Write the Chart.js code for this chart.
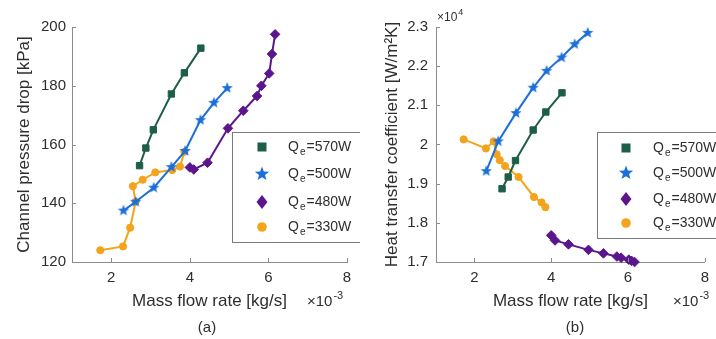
<!DOCTYPE html>
<html>
<head>
<meta charset="utf-8">
<script src="https://cdn.jsdelivr.net/npm/chart.js@4.4.1/dist/chart.umd.min.js"></script>
<style>
html, body { margin: 0; padding: 0; background: #fff; }
#wrap { position: relative; width: 716px; height: 339px; overflow: hidden; }
#chartA { position: absolute; left: 0; top: 0; }
#chartB { position: absolute; left: 360px; top: 0; }
</style>
</head>
<body>
<div id="wrap">
  <canvas id="chartA" width="360" height="339"></canvas>
  <canvas id="chartB" width="356" height="339"></canvas>
</div>
<script>
// tick labels
var xTicks = [2, 4, 6, 8];
var dpTicks = [120, 140, 160, 180, 200];
var htcTicks = [1.7, 1.8, 1.9, 2.0, 2.1, 2.2, 2.3];
var seriesNames = ["=570W", "=500W", "=480W", "=330W"];

// mass flow rate (x10^-3 kg/s)
var flow570 = [2.72, 2.88, 3.07, 3.53, 3.86, 4.28];
var flow500 = [2.31, 2.62, 3.08, 3.53, 3.88, 4.27, 4.61, 4.95];
var flow480 = [4.00, 4.10, 4.45, 4.97, 5.36, 5.71, 5.82, 6.02, 6.09, 6.17];
var flow330a = [1.72, 2.30, 2.48, 2.62, 2.55, 2.80, 3.12, 3.55, 3.75, 3.86];
var flow330b = [1.72, 2.30, 2.50, 2.58, 2.66, 2.80, 3.15, 3.55, 3.75, 3.85];

// channel pressure drop (kPa)
var dp570 = [152.8, 158.8, 165.0, 177.2, 184.4, 192.8];
var dp500 = [137.5, 140.5, 145.3, 152.3, 157.8, 168.3, 174.2, 179.2];
var dp480 = [152.2, 151.5, 153.8, 165.5, 171.5, 176.5, 180.0, 184.2, 190.8, 197.5];
var dp330 = [124.0, 125.3, 131.7, 140.5, 145.8, 148.0, 150.5, 151.3, 152.5, 157.5];

// heat transfer coefficient (x10^4 W/m2K)
var htc570 = [1.887, 1.917, 1.959, 2.037, 2.083, 2.132];
var htc500 = [1.932, 2.008, 2.080, 2.145, 2.188, 2.222, 2.256, 2.285];
var htc480 = [1.768, 1.755, 1.745, 1.731, 1.722, 1.714, 1.711, 1.706, 1.703, 1.700];
var htc330 = [2.013, 1.990, 2.008, 1.975, 1.960, 1.945, 1.917, 1.866, 1.852, 1.840];

var GREEN = "#1d5e48", BLUE = "#1c6fd8", PURPLE = "#5a168a", ORANGE = "#f4a41c";
var FONT = "'Liberation Sans', Arial, sans-serif";
var TEXT = "#2e2e2e", AXIS = "#8c8c8c";

function pts(xs, ys) {
    return xs.map(function (x, i) { return { x: x, y: ys[i] }; });
}

function starPath(ctx, x, y, r) {
    ctx.beginPath();
    for (var i = 0; i < 10; i++) {
        var rr = i % 2 === 0 ? r : r * 0.42;
        var a = -Math.PI / 2 + i * Math.PI / 5;
        var px = x + rr * Math.cos(a), py = y + rr * Math.sin(a);
        if (i === 0) ctx.moveTo(px, py); else ctx.lineTo(px, py);
    }
    ctx.closePath();
}

function makeStar(r, color) {
    var c = document.createElement("canvas");
    c.width = c.height = Math.ceil(2 * r + 2);
    var g = c.getContext("2d");
    g.fillStyle = color;
    starPath(g, c.width / 2, c.height / 2, r);
    g.fill();
    return c;
}
var starImg = makeStar(6, BLUE);

function drawMarker(ctx, kind, x, y, color) {
    ctx.fillStyle = color;
    if (kind === "rect") {
        ctx.fillRect(x - 4.5, y - 4.5, 9, 9);
    } else if (kind === "star") {
        starPath(ctx, x, y, 7.5);
        ctx.fill();
    } else if (kind === "diamond") {
        ctx.beginPath();
        ctx.moveTo(x, y - 7); ctx.lineTo(x + 5.5, y); ctx.lineTo(x, y + 7); ctx.lineTo(x - 5.5, y);
        ctx.closePath();
        ctx.fill();
    } else {
        ctx.beginPath();
        ctx.arc(x, y, 4.8, 0, Math.PI * 2);
        ctx.fill();
    }
}

function supText(ctx, base, sup, x, y, size, supSize, lift) {
    ctx.font = size + "px " + FONT;
    ctx.textBaseline = "middle";
    ctx.textAlign = "left";
    ctx.fillText(base, x, y);
    var w = ctx.measureText(base).width;
    ctx.font = supSize + "px " + FONT;
    ctx.fillText(sup, x + w + 1, y - lift);
}

var annotate = {
    id: "annotate",
    afterDraw: function (chart) {
        var o = chart.options.plugins.annotate;
        var ctx = chart.ctx;
        var area = chart.chartArea;
        ctx.save();

        // MATLAB style inward ticks
        ctx.strokeStyle = AXIS;
        ctx.lineWidth = 1;
        ctx.beginPath();
        chart.scales.x.ticks.forEach(function (t) {
            var px = Math.round(chart.scales.x.getPixelForValue(t.value)) + 0.5;
            ctx.moveTo(px, area.bottom); ctx.lineTo(px, area.bottom - 4);
        });
        chart.scales.y.ticks.forEach(function (t) {
            var py = Math.round(chart.scales.y.getPixelForValue(t.value)) + 0.5;
            ctx.moveTo(area.left, py); ctx.lineTo(area.left + 4, py);
        });
        ctx.stroke();

        // legend box
        var b = o.legend;
        ctx.fillStyle = "#fff";
        ctx.fillRect(b.x, b.y, b.w, b.h);
        ctx.strokeStyle = "#7a7a7a";
        ctx.strokeRect(b.x + 0.5, b.y + 0.5, b.w, b.h);
        var kinds = ["rect", "star", "diamond", "circle"];
        var colors = [GREEN, BLUE, PURPLE, ORANGE];
        seriesNames.forEach(function (name, i) {
            var ry = b.rows[i];
            drawMarker(ctx, kinds[i], b.mx, ry, colors[i]);
            ctx.fillStyle = TEXT;
            ctx.font = "14px " + FONT;
            ctx.textBaseline = "middle";
            ctx.textAlign = "left";
            ctx.fillText("Q", b.tx, ry);
            var wq = ctx.measureText("Q").width;
            ctx.font = "10px " + FONT;
            ctx.fillText("e", b.tx + wq + 1, ry + 5);
            var we = ctx.measureText("e").width;
            ctx.font = "14px " + FONT;
            ctx.fillText(name, b.tx + wq + we + 2, ry);
        });

        // exponent notes and panel label
        ctx.fillStyle = TEXT;
        o.notes.forEach(function (n) {
            supText(ctx, n.base, n.sup, n.x, n.y, n.size, n.supSize, n.lift);
        });
        ctx.font = "15px " + FONT;
        ctx.textAlign = "center";
        ctx.textBaseline = "middle";
        ctx.fillText(o.panel.text, o.panel.x, o.panel.y);
        ctx.restore();
    }
};

function lineSet(data, color, style, radius) {
    return {
        data: data,
        borderColor: color,
        backgroundColor: color,
        borderWidth: 2,
        showLine: true,
        pointStyle: style,
        pointRadius: radius,
        pointBorderWidth: 1,
        pointBorderColor: color,
        pointBackgroundColor: color,
        clip: false
    };
}

function makeChart(id, cfg) {
    return new Chart(document.getElementById(id), {
        type: "scatter",
        data: { datasets: cfg.datasets },
        options: {
            responsive: false,
            animation: false,
            events: [],
            layout: { padding: { top: 27, right: cfg.padRight, left: 0, bottom: 0 } },
            plugins: {
                legend: { display: false },
                tooltip: { enabled: false },
                annotate: cfg.annotate
            },
            scales: {
                x: {
                    type: "linear", min: 1, max: 8,
                    afterBuildTicks: function (s) { s.ticks = xTicks.map(function (v) { return { value: v }; }); },
                    afterFit: function (s) { s.height = 77; },
                    grid: { drawOnChartArea: false, drawTicks: false },
                    border: { color: AXIS, width: 1 },
                    ticks: { padding: 7, color: TEXT, font: { family: FONT, size: 15 } },
                    title: {
                        display: true, text: "Mass flow rate [kg/s]", color: TEXT,
                        font: { family: FONT, size: 17 }, padding: { top: 0, bottom: 27 }
                    }
                },
                y: {
                    type: "linear", min: cfg.yMin, max: cfg.yMax,
                    afterBuildTicks: function (s) { s.ticks = cfg.yTicks.map(function (v) { return { value: v }; }); },
                    afterFit: function (s) { s.width = cfg.yWidth; },
                    grid: { drawOnChartArea: false, drawTicks: false },
                    border: { color: AXIS, width: 1 },
                    ticks: {
                        padding: cfg.yPad, color: TEXT, font: { family: FONT, size: 15 },
                        callback: function (v) { return String(Math.round(v * 10) / 10); }
                    },
                    title: {
                        display: true, text: cfg.yTitle, color: TEXT,
                        font: { family: FONT, size: 17 }, padding: { top: cfg.yTitlePad, bottom: 0 }
                    }
                }
            }
        },
        plugins: [annotate]
    });
}

makeChart("chartA", {
    datasets: [
        lineSet(pts(flow570, dp570), GREEN, "rect", 4.5),
        lineSet(pts(flow500, dp500), BLUE, starImg, 6),
        lineSet(pts(flow480, dp480), PURPLE, "rectRot", 4.8),
        lineSet(pts(flow330a, dp330), ORANGE, "circle", 3.6)
    ],
    yMin: 120, yMax: 200, yTicks: dpTicks,
    yWidth: 72, yPad: 6, yTitlePad: 14, padRight: 13,
    yTitle: "Channel pressure drop [kPa]",
    annotate: {
        legend: { x: 232, y: 132, w: 140, h: 110, mx: 262, tx: 288, rows: [147, 174, 202, 227] },
        notes: [{ base: "\u00d710", sup: "-3", x: 307, y: 302, size: 15, supSize: 11, lift: 6 }],
        panel: { text: "(a)", x: 207, y: 328 }
    }
});

makeChart("chartB", {
    datasets: [
        lineSet(pts(flow570, htc570), GREEN, "rect", 4.5),
        lineSet(pts(flow500, htc500), BLUE, starImg, 6),
        lineSet(pts(flow480, htc480), PURPLE, "rectRot", 4.8),
        lineSet(pts(flow330b, htc330), ORANGE, "circle", 3.6)
    ],
    yMin: 1.7, yMax: 2.3, yTicks: htcTicks,
    yWidth: 76, yPad: 8, yTitlePad: 22, padRight: 6,
    yTitle: "Heat transfer coefficient [W/m\u00b2K]",
    annotate: {
        legend: { x: 237, y: 132, w: 140, h: 106, mx: 266, tx: 293, rows: [148, 173, 199, 223] },
        notes: [
            { base: "\u00d710", sup: "-3", x: 313, y: 302, size: 15, supSize: 11, lift: 6 },
            { base: "\u00d710", sup: "4", x: 77, y: 18, size: 12, supSize: 9, lift: 5 }
        ],
        panel: { text: "(b)", x: 215, y: 328 }
    }
});
</script>
</body>
</html>
